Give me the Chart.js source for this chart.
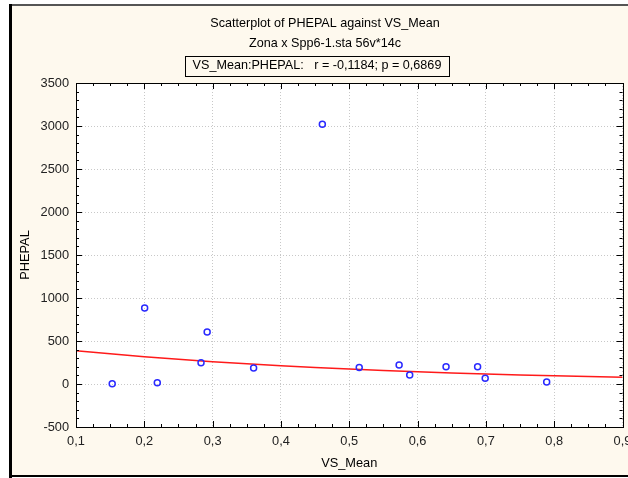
<!DOCTYPE html>
<html>
<head>
<meta charset="utf-8">
<script src="https://cdn.jsdelivr.net/npm/chart.js@4"></script>
<style>
  html, body { margin: 0; padding: 0; background: #fff; }
  canvas { display: block; }
</style>
</head>
<body>
<canvas id="scatterChart" width="628" height="478"></canvas>
<script>
// Values (14 cases)
const vsMean = [0.153, 0.2005, 0.219, 0.283, 0.292, 0.360, 0.4606, 0.5146, 0.573, 0.5885, 0.6417, 0.6879, 0.699, 0.789];
const phepal = [4, 884, 15, 248, 605, 186, 3020, 192, 221, 105, 202, 202, 66, 23];

// fitted curve, read where it crosses each x gridline
const fitX = [0.1, 0.2, 0.3, 0.4, 0.5, 0.6, 0.7, 0.8, 0.9];
const fitY = [388, 318, 260, 213, 174, 142, 116, 95, 78];

const xTickLabels = ['0,1', '0,2', '0,3', '0,4', '0,5', '0,6', '0,7', '0,8', '0,9'];
const yTickLabels = ['-500', '0', '500', '1000', '1500', '2000', '2500', '3000', '3500'];

const chartTitle = 'Scatterplot of PHEPAL against VS_Mean';
const chartSubtitle = 'Zona x Spp6-1.sta 56v*14c';
const corrText = 'VS_Mean:PHEPAL:   r = -0,1184; p = 0,6869';

const textFont = '12.6px "Liberation Sans", Arial, sans-serif';
const tickFont = { family: '"Liberation Sans", Arial, sans-serif', size: 12.8 };

// frame, titles, plot border and the inward ticks
const statFrame = {
    id: 'statFrame',
    beforeDraw(chart) {
        const c = chart.ctx;
        const a = chart.chartArea;
        c.save();
        c.fillStyle = '#ffffff';
        c.fillRect(0, 0, chart.width, chart.height);
        c.fillStyle = '#fef9ee';
        c.fillRect(9, 5, chart.width - 9, 472);
        c.fillStyle = '#ffffff';
        c.fillRect(a.left, a.top, a.right - a.left, a.bottom - a.top);
        c.fillStyle = '#555555';
        c.fillRect(9, 4, chart.width - 9, 2);
        c.fillStyle = '#000000';
        c.fillRect(9, 4, 3, 474);
        c.fillRect(9, 475, chart.width - 9, 2);
        c.restore();
    },
    afterDraw(chart) {
        const c = chart.ctx;
        const a = chart.chartArea;
        const xs = chart.scales.x;
        const ys = chart.scales.y;
        c.save();

        // titles
        c.fillStyle = '#000';
        c.font = textFont;
        c.textAlign = 'center';
        c.textBaseline = 'middle';
        c.fillText(chartTitle, 325, 23.5);
        c.fillText(chartSubtitle, 325, 43.5);
        c.fillText(corrText, 317, 66);
        c.strokeStyle = '#000';
        c.lineWidth = 1;
        c.strokeRect(185.5, 56.5, 264, 20);

        // inward ticks, major every 0.1 / 500, minor every 0.025 / 100
        c.beginPath();
        for (let i = 0; i <= 32; i++) {
            const v = 0.1 + i * 0.025;
            const px = Math.round(xs.getPixelForValue(v)) + 0.5;
            const len = i % 4 === 0 ? 6 : 3;
            c.moveTo(px, a.bottom); c.lineTo(px, a.bottom - len);
            c.moveTo(px, a.top); c.lineTo(px, a.top + len);
        }
        for (let i = 0; i <= 40; i++) {
            const v = -500 + i * 100;
            const py = Math.round(ys.getPixelForValue(v)) + 0.5;
            const len = i % 5 === 0 ? 6 : 3;
            c.moveTo(a.left, py); c.lineTo(a.left + len, py);
            c.moveTo(a.right, py); c.lineTo(a.right - len, py);
        }
        c.stroke();

        // plot border
        c.strokeRect(Math.round(a.left) + 0.5, Math.round(a.top) + 0.5,
            Math.round(a.right - a.left), Math.round(a.bottom - a.top));
        c.restore();
    }
};

const ctx = document.getElementById('scatterChart').getContext('2d');

let chart = new Chart(ctx, {
    type: 'scatter',
    data: {
        datasets: [
            {
                label: 'PHEPAL',
                data: vsMean.map((x, i) => ({ x: x, y: phepal[i] })),
                pointStyle: 'circle',
                pointRadius: 3,
                pointBorderWidth: 1.5,
                pointBorderColor: '#2a2aff',
                pointBackgroundColor: 'rgba(0,0,0,0)',
                order: 1
            },
            {
                label: 'fit',
                type: 'line',
                data: fitX.map((x, i) => ({ x: x, y: fitY[i] })),
                borderColor: '#ff1a1a',
                borderWidth: 1.5,
                pointRadius: 0,
                tension: 0.4,
                fill: false,
                order: 2
            }
        ]
    },
    options: {
        responsive: false,
        animation: false,
        devicePixelRatio: 1,
        layout: { padding: { left: 0, top: 83, right: 4.5, bottom: 0 } },
        plugins: {
            legend: { display: false },
            tooltip: { enabled: false }
        },
        scales: {
            x: {
                type: 'linear',
                min: 0.1,
                max: 0.9,
                border: { display: false, dash: [1, 2] },
                grid: { color: '#c8c8c8', drawTicks: false },
                ticks: {
                    stepSize: 0.1,
                    padding: 7,
                    color: '#222',
                    font: tickFont,
                    maxRotation: 0,
                    autoSkip: false,
                    callback: (v) => xTickLabels[Math.round(v * 10) - 1]
                },
                title: {
                    display: true,
                    text: 'VS_Mean',
                    color: '#000',
                    font: tickFont,
                    padding: { top: 0, bottom: 7 }
                },
                afterFit: (s) => { s.height = 51; s.paddingLeft = 0; s.paddingRight = 0; }
            },
            y: {
                min: -500,
                max: 3500,
                border: { display: false, dash: [1, 2] },
                grid: { color: '#c8c8c8', drawTicks: false },
                ticks: {
                    stepSize: 500,
                    padding: 7,
                    color: '#222',
                    font: tickFont,
                    autoSkip: false,
                    callback: (v) => yTickLabels[Math.round(v / 500) + 1]
                },
                title: {
                    display: true,
                    text: 'PHEPAL',
                    color: '#000',
                    font: tickFont,
                    padding: { top: 18, bottom: 0 }
                },
                afterFit: (s) => { s.width = 76; s.paddingTop = 0; s.paddingBottom = 0; }
            }
        }
    },
    plugins: [statFrame]
});
</script>
</body>
</html>
